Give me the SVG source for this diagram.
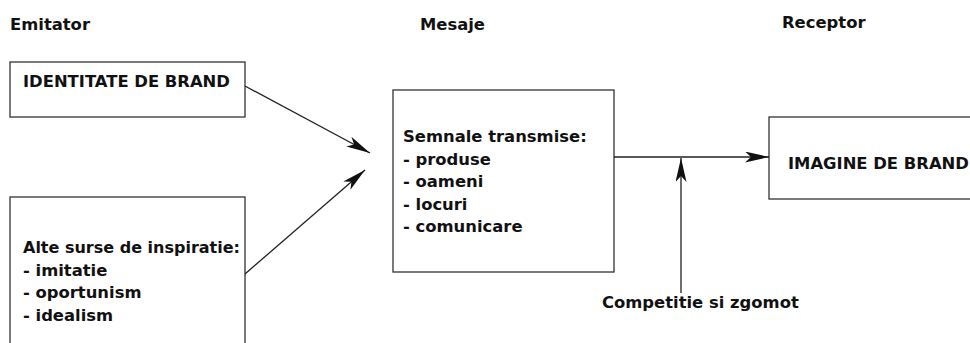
<svg xmlns="http://www.w3.org/2000/svg" width="970" height="343" viewBox="0 0 970 343">
<style>
text{font-family:"DejaVu Sans","Liberation Sans",sans-serif;font-weight:bold;font-size:16.4px;fill:#111}
.box{fill:#fff;stroke:#333;stroke-width:1.3}
.con{stroke:#222;stroke-width:1.3;fill:none}
</style>
<defs>
<marker id="ah" markerUnits="userSpaceOnUse" markerWidth="26" markerHeight="12" refX="24" refY="5.5" orient="auto">
<path d="M0,0 L24,5.5 L0,11 L6,5.5 Z" fill="#111"/>
</marker>
</defs>
<rect width="970" height="343" fill="#fff"/>
<text x="10" y="30">Emitator</text>
<text x="420" y="30">Mesaje</text>
<text x="782" y="28">Receptor</text>
<g id="identitate">
<rect class="box" x="10" y="62" width="235" height="55"/>
<text x="23" y="87">IDENTITATE DE BRAND</text>
</g>
<g id="alte-surse">
<rect class="box" x="10" y="197" width="235" height="160"/>
<text x="23" y="253" textLength="217" lengthAdjust="spacingAndGlyphs">Alte surse de inspiratie:</text>
<text x="23" y="275.5">- imitatie</text>
<text x="23" y="298">- oportunism</text>
<text x="23" y="320.5">- idealism</text>
</g>
<g id="mesaje">
<rect class="box" x="393" y="90" width="221" height="182"/>
<text x="403" y="142">Semnale transmise:</text>
<text x="403" y="164.5">- produse</text>
<text x="403" y="187">- oameni</text>
<text x="403" y="209.5">- locuri</text>
<text x="403" y="232">- comunicare</text>
</g>
<g id="imagine">
<rect class="box" x="769" y="117" width="220" height="82"/>
<text x="788" y="169">IMAGINE DE BRAND</text>
</g>
<g id="competitie">
<text x="602" y="308">Competitie si zgomot</text>
</g>
<g id="connectors">
<line class="con" x1="245" y1="86" x2="370" y2="153" marker-end="url(#ah)"/>
<line class="con" x1="245" y1="274" x2="365" y2="170" marker-end="url(#ah)"/>
<line class="con" x1="614" y1="157" x2="769" y2="157" marker-end="url(#ah)"/>
<line class="con" x1="681" y1="293" x2="681" y2="158" marker-end="url(#ah)"/>
</g>
</svg>
